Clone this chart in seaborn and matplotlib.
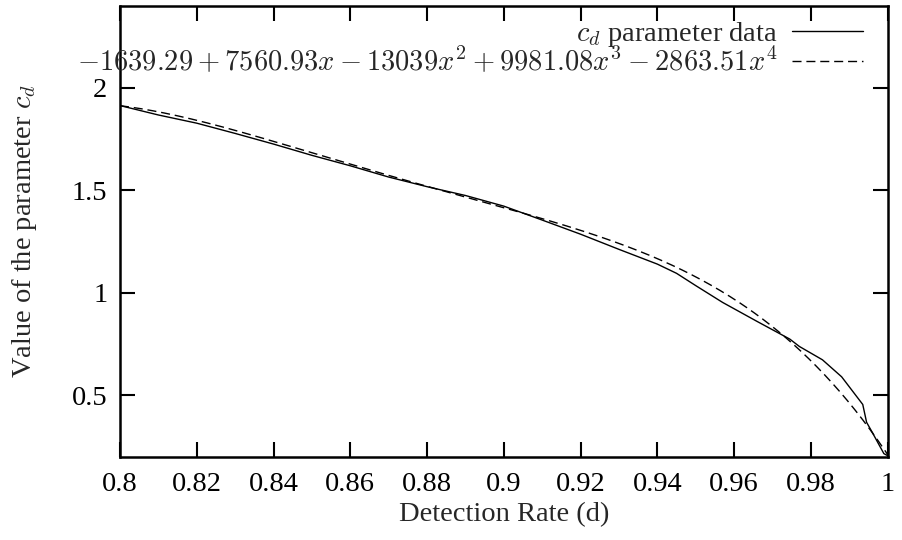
import numpy as np
import pandas as pd
import matplotlib
matplotlib.use("Agg")
import matplotlib.pyplot as plt
from matplotlib.ticker import FuncFormatter
import seaborn as sns

detection_rate = [0.800, 0.810, 0.820, 0.830, 0.840, 0.850, 0.860, 0.870, 0.880,
                  0.890, 0.900, 0.910, 0.920, 0.930, 0.940, 0.945, 0.950, 0.957,
                  0.966, 0.9745, 0.977, 0.983, 0.988, 0.9935, 0.9945, 0.996,
                  0.999, 1.000]
cd_values = [1.914, 1.868, 1.828, 1.778, 1.726, 1.671, 1.620, 1.565, 1.518,
             1.475, 1.423, 1.355, 1.286, 1.212, 1.140, 1.095, 1.035, 0.953,
             0.860, 0.774, 0.738, 0.673, 0.590, 0.455, 0.368, 0.318,
             0.215, 0.205]

# Fit coefficients as printed in the legend (constant term first)
fit_coeffs = [-1639.29, 7560.93, -13039.0, 9981.08, -2863.51]
fit_x = np.linspace(0.8, 1.0, 400)

x_ticks = [0.8, 0.82, 0.84, 0.86, 0.88, 0.9, 0.92, 0.94, 0.96, 0.98, 1.0]
y_ticks = [0.5, 1.0, 1.5, 2.0]

data_label = r"$c_d$ parameter data"
fit_label = r"$-1639.29 + 7560.93x - 13039x^2 + 9981.08x^3 - 2863.51x^4$"

FS = 20.5

sns.set_theme(style="ticks")
plt.rcParams["font.family"] = ["Liberation Serif", "DejaVu Serif"]
plt.rcParams["mathtext.fontset"] = "cm"
plt.rcParams["font.size"] = FS

fig = plt.figure(figsize=(9.02, 5.40), dpi=100)
ax = fig.add_axes([120 / 902, 1 - 456.7 / 540, 767.7 / 902, 450.7 / 540])

df_data = pd.DataFrame({"x": detection_rate, "y": cd_values})
fit_y = np.polyval(fit_coeffs[::-1], fit_x)
df_fit = pd.DataFrame({"x": fit_x, "y": fit_y})

sns.lineplot(data=df_data, x="x", y="y", ax=ax, color="black", lw=1.0,
             label=data_label, sort=False)
sns.lineplot(data=df_fit, x="x", y="y", ax=ax, color="black", lw=1.0,
             label=fit_label, sort=False)
ax.lines[1].set_dashes((6.5, 3.5))

ax.set_xlim(0.8, 1.0)
ax.set_ylim(0.2, 2.4)
ax.set_xticks(x_ticks)
ax.set_yticks(y_ticks)
fmt = FuncFormatter(lambda v, p: "%g" % round(v, 4))
ax.xaxis.set_major_formatter(fmt)
ax.yaxis.set_major_formatter(fmt)

for s in ax.spines.values():
    s.set_visible(True)
    s.set_linewidth(1.8)
    s.set_color("black")
ax.tick_params(axis="both", which="major", direction="in", length=11, width=1.5,
               top=True, right=True, labelsize=FS, colors="black")
ax.tick_params(axis="x", pad=11)
ax.tick_params(axis="y", pad=9)

ax.set_xlabel("Detection Rate (d)", fontsize=FS, labelpad=4)
ax.set_ylabel(r"Value of the parameter $c_d$", fontsize=FS, labelpad=24)

leg = ax.legend(loc="upper right", bbox_to_anchor=(0.968, 0.968), frameon=False,
                markerfirst=False, handlelength=2.5, handletextpad=0.5,
                labelspacing=-0.1, borderpad=0, borderaxespad=0,
                fontsize=FS)
leg.get_lines()[1].set_dashes((6.5, 3.5))

fig.savefig("out.png", dpi=100)
